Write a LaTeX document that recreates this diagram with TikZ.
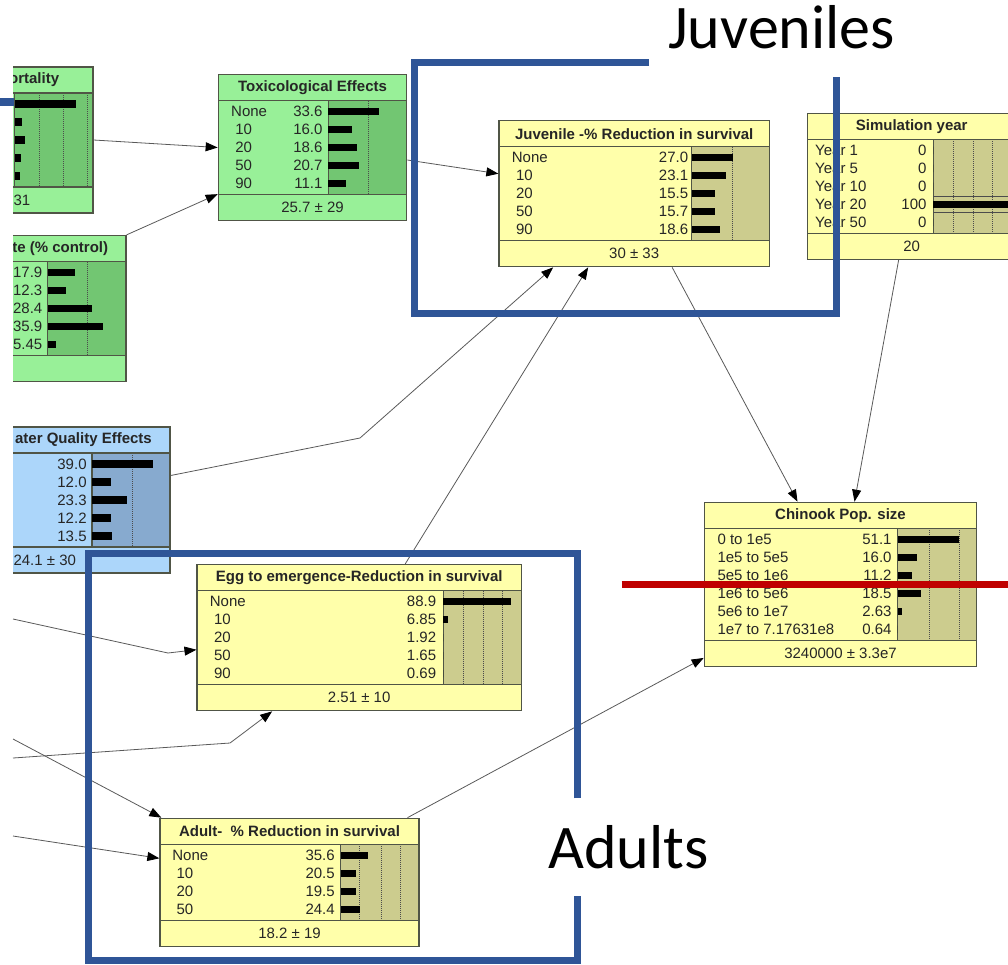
\documentclass[tikz,border=0pt]{standalone}
\usepackage{fontspec}
\setmainfont{Liberation Sans}
\newfontfamily\slidefont{Carlito}
\usetikzlibrary{arrows.meta}
\usetikzlibrary{fit}

\definecolor{grnlt}{RGB}{152,240,152}
\definecolor{grndk}{RGB}{114,198,114}
\definecolor{ylwlt}{RGB}{255,255,170}
\definecolor{ylwdk}{RGB}{204,204,142}
\definecolor{blult}{RGB}{172,214,250}
\definecolor{bludk}{RGB}{135,170,207}
\definecolor{bnedge}{RGB}{80,85,70}
\definecolor{frameblue}{RGB}{47,85,151}
\definecolor{cutred}{RGB}{192,0,0}

\tikzset{
  bnbox/.style={draw=bnedge, line width=1.3pt, inner sep=0pt},
  bnline/.style={draw=bnedge, line width=1.3pt},
  bngrid/.style={draw=black!70, line width=0.6pt, dash pattern=on 1pt off 1pt},
  bnlab/.style={anchor=west, inner sep=0pt, text=black!85, font=\fontsize{15}{18}\selectfont},
  bnval/.style={bnlab, anchor=east},
  bnttl/.style={inner sep=0pt, text=black!85, font=\bfseries\fontsize{15}{18}\selectfont},
  bnftr/.style={inner sep=0pt, text=black!85, font=\fontsize{15}{18}\selectfont},
  link/.style={draw=black!65, line width=0.8pt, -{Triangle[length=12pt,width=9pt,color=black]}},
  boxframe/.style={draw=frameblue, line width=7pt},
  slidetxt/.style={inner sep=0pt, font=\slidefont\fontsize{62}{70}\selectfont}
}

% #1 name, #2 left, #3 top, #4 right, #5 bar area left, #6 rows, #7 colour, #8 grid lines
\newcommand{\bnframe}[8]{%
  \pgfmathsetmacro\bnTs{#3+26}%
  \pgfmathsetmacro\bnFs{#3+30+18*#6}%
  \pgfmathsetmacro\bnB{#3+56+18*#6}%
  \pgfmathsetmacro\bnTy{#3+13}%
  \pgfmathsetmacro\bnFy{#3+43+18*#6}%
  \fill[#7lt] (#2,#3) rectangle (#4,\bnB);
  \fill[#7dk] (#5,\bnTs) rectangle (#4,\bnFs);
  \foreach \gx in {#8} \draw[bngrid] (\gx,\bnTs) -- (\gx,\bnFs);
  \draw[bnline] (#2,\bnTs) -- (#4,\bnTs) (#2,\bnFs) -- (#4,\bnFs) (#5,\bnTs) -- (#5,\bnFs);
  \node[bnbox, fit={(#2,#3) (#4,\bnB)}] (#1) {};
}

% #1 label x, #2 value x, #3 bar x, #4 label/value/bar length
\newcommand{\bnrows}[4]{%
  \foreach \lab/\val/\len [count=\i] in {#4} {
    \pgfmathsetmacro\ry{\bnTs+11+18*(\i-1)}
    \node[bnlab] at (#1,\ry) {\lab};
    \node[bnval] at (#2,\ry) {\val};
    \fill[black] (#3,\ry-3.7) rectangle ++(\len,7.4);
  }
}

\begin{document}
\begin{tikzpicture}[x=1pt, y=-1pt]

\useasboundingbox (0,0) rectangle (1008,964);
\clip (0,0) rectangle (1008,964);

% nodes cut by the left edge
\begin{scope}
\clip (13,0) rectangle (1008,964);
\bnframe{mort}{-40}{67}{93}{14.5}{5}{grn}{39,63,87}
\bnrows{0}{0}{14.5}{{}/{}/61, {}/{}/7.7, {}/{}/10.3, {}/{}/6.3, {}/{}/5}
\node[bnttl, anchor=east] (mortttl) at (59.3,\bnTy) {ortality};
\node[bnftr, anchor=west] (mortftr) at (13.3,\bnFy) {31};

\bnframe{grow}{-40}{235.5}{126}{47.7}{5}{grn}{87.7}
\bnrows{0}{42.5}{47.7}{{}/17.9/27.3, {}/12.3/18.3, {}/28.4/44, {}/35.9/55, {}/5.45/8.3}
\node[bnttl, anchor=east] (growttl) at (108.3,\bnTy) {te (\% control)};

\bnframe{wq}{-40}{427}{170}{92}{5}{blu}{132.3}
\bnrows{0}{86.8}{92}{{}/39.0/60.5, {}/12.0/18.9, {}/23.3/35.4, {}/12.2/18.9, {}/13.5/19.9}
\node[bnttl, anchor=east] (wqttl) at (152,\bnTy) {ater Quality Effects};
\node[bnftr, anchor=west] (wqftr) at (13.3,\bnFy) {24.1 ± 30};
\end{scope}

% Toxicological Effects
\bnframe{tox}{218.3}{74.5}{406.7}{328.3}{5}{grn}{368.3}
\bnrows{231}{322.7}{328.3}{None/33.6/50.7, \ 10/16.0/23.4, \ 20/18.6/28.4, \ 50/20.7/31, \ 90/11.1/17.4}
\node[bnttl] (toxttl) at (312.5,\bnTy) {Toxicological Effects};
\node[bnftr] (toxftr) at (312.5,\bnFy) {25.7 ± 29};

% Juvenile
\bnframe{juv}{499}{120.7}{769.3}{691.7}{5}{ylw}{732.7}
\bnrows{511.7}{688.3}{691.7}{None/27.0/41.7, \ 10/23.1/34.3, \ 20/15.5/23.7, \ 50/15.7/23.7, \ 90/18.6/28.3}
\node[bnttl] (juvttl) at (634.2,\bnTy) {Juvenile -\% Reduction in survival};
\node[bnftr] (juvftr) at (634.2,\bnFy) {30 ± 33};

% Simulation year
\bnframe{sim}{807.3}{113.3}{1016}{933.3}{5}{ylw}{953.3,973,992.7,1012.4}
\bnrows{815}{926.7}{933.3}{Year 1/0/0, Year 5/0/0, Year 10/0/0, Year 20/100/90, Year 50/0/0}
\draw[bngrid, dash pattern=] (933.3,196.5) -- (1016,196.5) (933.3,212) -- (1016,212);
\node[bnttl] (simttl) at (911.7,\bnTy) {Simulation year};
\node[bnftr] (simftr) at (911.7,\bnFy) {20};

% Egg to emergence
\bnframe{egg}{197.1}{564.7}{521.2}{443.2}{5}{ylw}{463.1,483.5,502.5}
\bnrows{209.7}{436.3}{443.2}{None/88.9/67.7, \ 10/6.85/4.6, \ 20/1.92/0, \ 50/1.65/0, \ 90/0.69/0}
\node[bnttl] (eggttl) at (359.2,\bnTy) {Egg to emergence-Reduction in survival};
\node[bnftr] (eggftr) at (359.2,\bnFy) {2.51 ± 10};

% Chinook
\bnframe{chin}{704.3}{502.3}{976.7}{897.7}{6}{ylw}{929.3,959.3}
\bnrows{717.3}{891.7}{897.7}{0 to 1e5/51.1/61.6, 1e5 to 5e5/16.0/19, 5e5 to 1e6/11.2/14, 1e6 to 5e6/18.5/23, 5e6 to 1e7/2.63/4, 1e7 to 7.17631e8/0.64/0}
\node[bnttl] (chinttl) at (840.5,\bnTy) {Chinook Pop. size};
\node[bnftr] (chinftr) at (840.5,\bnFy) {3240000 ± 3.3e7};

% Adult
\bnframe{adult}{160}{818.3}{419}{340.6}{4}{ylw}{359.7,380.8,399.9}
\bnrows{172.2}{334.9}{340.6}{None/35.6/27.6, \ 10/20.5/15.3, \ 20/19.5/15.3, \ 50/24.4/19.1}
\node[bnttl] (adultttl) at (289.5,\bnTy) {Adult- \ \% Reduction in survival};
\node[bnftr] (adultftr) at (289.5,\bnFy) {18.2 ± 19};

% links
\coordinate (wqbend) at (360,438);
\coordinate (inA) at (13,619);
\coordinate (eggbendA) at (168,653);
\coordinate (inB) at (13,758);
\coordinate (eggbendB) at (230,743);
\coordinate (inC) at (13,739);
\coordinate (inD) at (13,836);

\draw[link] (mort.east) -- (tox.west);
\draw[link] (grow.north east) -- ([yshift=27pt]tox.south west);
\draw[link] ([yshift=-12.5pt]tox.east) -- ([yshift=20pt]juv.west);
\draw[link] ([yshift=24.5pt]wq.east) -- (wqbend) -- ([xshift=-81pt]juv.south);
\draw[link] ([xshift=46pt]egg.north) -- ([xshift=-46pt]juv.south);
\draw[link] ([xshift=38pt]juv.south) -- ([xshift=-43pt]chin.north);
\draw[link] ([xshift=-13pt]sim.south) -- ([xshift=14pt]chin.north);
\draw[link] ([xshift=118pt]adult.north) -- ([yshift=9pt]chin.south west);
\draw[link] (inA) -- (eggbendA) -- ([yshift=-12pt]egg.west);
\draw[link] (inB) -- (eggbendB) -- ([xshift=-87pt]egg.south);
\draw[link] (inC) -- ([xshift=2pt]adult.north west);
\draw[link] (inD) -- ([yshift=24pt]adult.west);

% slide marks
\fill[frameblue] (0,98) rectangle (14,106);
\draw[boxframe] (649,62.5) -- (414.5,62.5) -- (414.5,313) -- (836.3,313) -- (836.3,77.3);
\draw[boxframe] (577.8,798.3) -- (577.8,553.7) -- (88,553.7) -- (88,960) -- (577.8,960) -- (577.8,896);
\draw[cutred, line width=7.5pt] (621.7,584.5) -- (1008,584.5);
\node[slidetxt, anchor=base west] (juvtxt) at (668,48.3) {Juveniles};
\node[slidetxt, anchor=base west] (adulttxt) at (548.3,868.3) {Adults};

\end{tikzpicture}
\end{document}
